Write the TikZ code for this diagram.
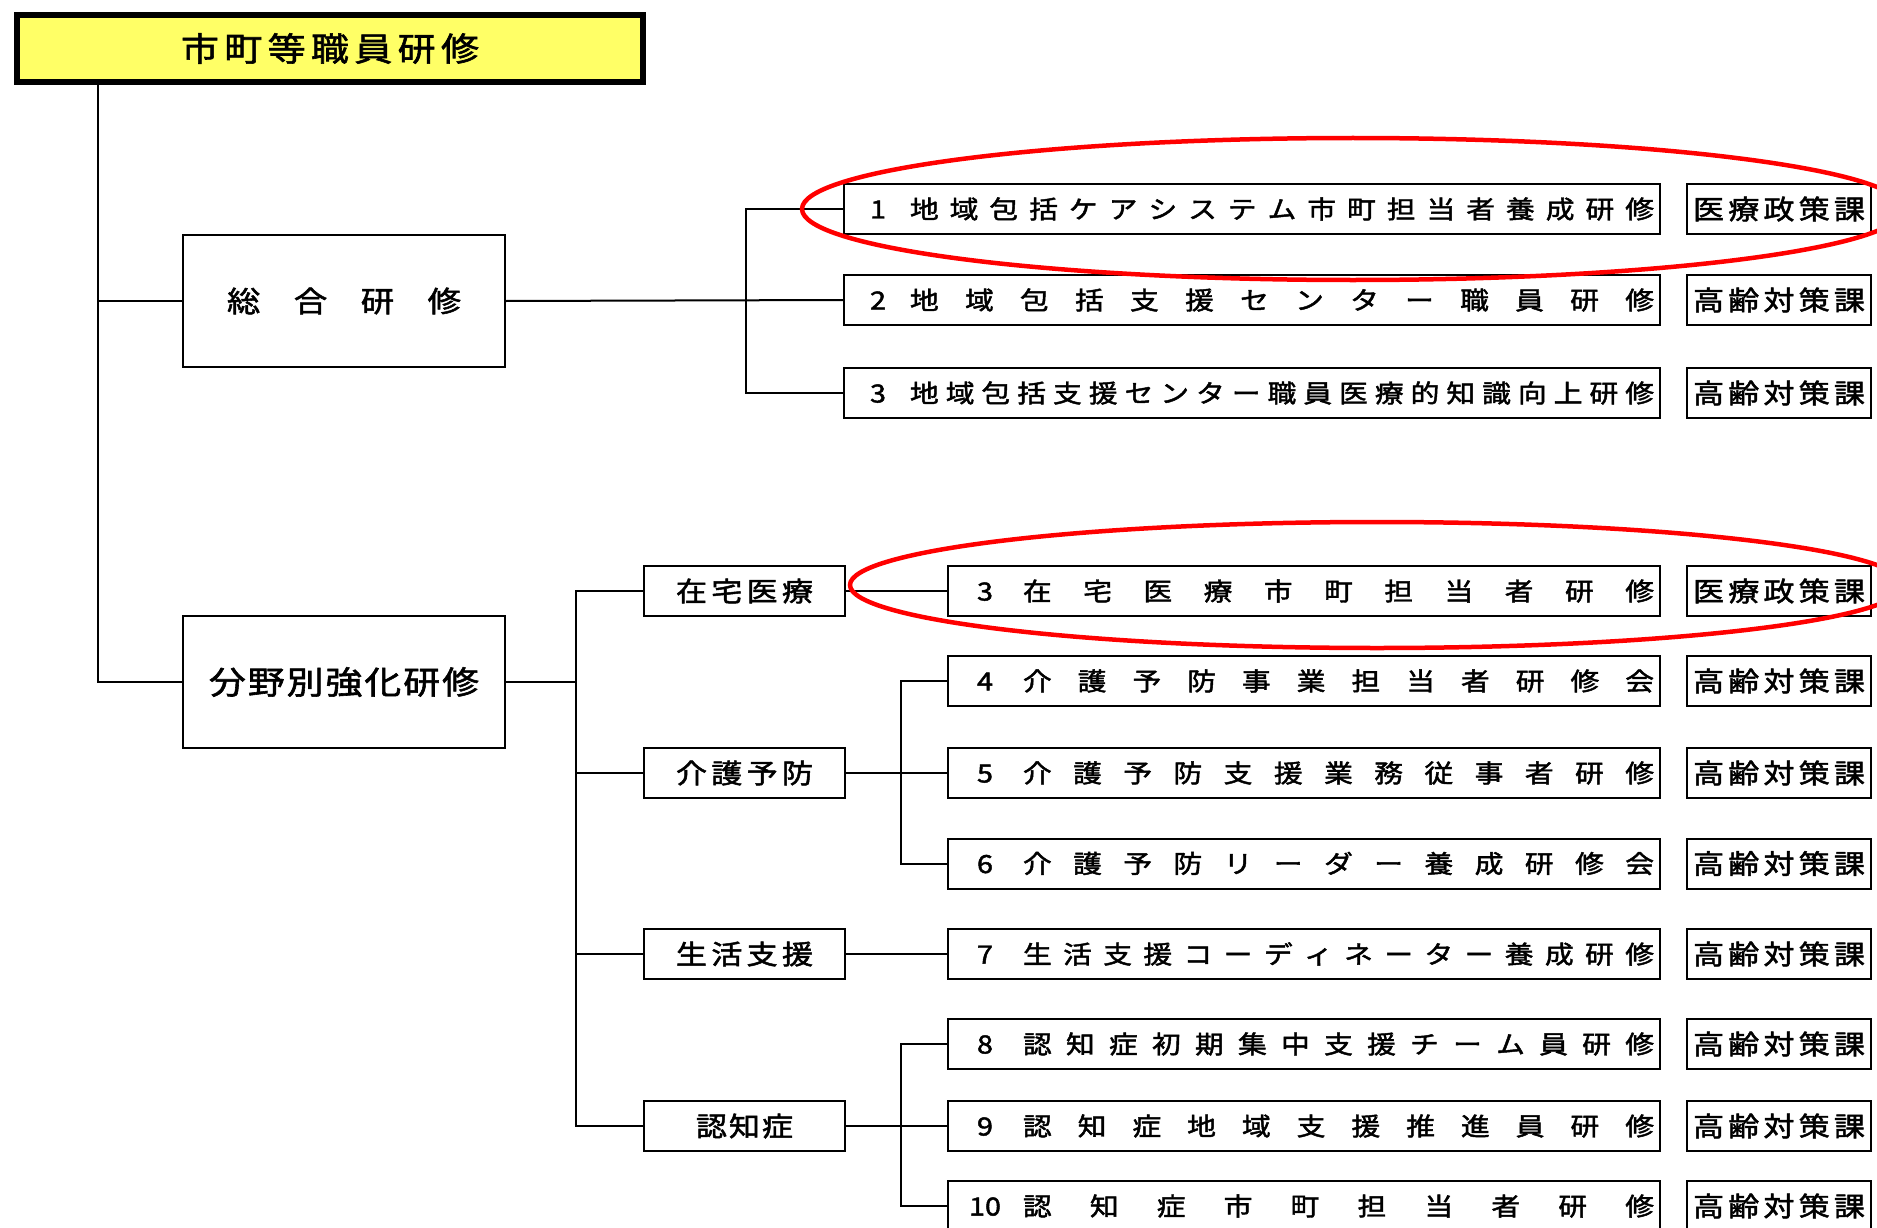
\documentclass[tikz,border=0pt]{standalone}
\usepackage{fontspec}
\newfontfamily\jp[FakeStretch=1.15,FakeBold=1.8]{Noto Sans CJK JP}
\usetikzlibrary{calc}
\makeatletter
\def\spreadchars#1{\spr@a#1\relax}
\def\spr@a#1#2\relax{#1\ifx\relax#2\relax\else\hfill\spr@a#2\relax\fi}
\makeatother
\newcommand\sptext[2]{\hbox to #1{\spreadchars{#2}}}
\newcommand\itemA[2]{\hbox to 816pt{\hskip 14pt\hbox to 40pt{\hfil#1\hfil}\hfill\sptext{744pt}{#2}\hskip 6pt}}
\newcommand\itemB[2]{\hbox to 712pt{\hskip 17pt\hbox to 40pt{\hfil#1\hfil}\hfill\sptext{631pt}{#2}\hskip 6pt}}
\newcommand\dept[1]{\sptext{172pt}{#1}}
\definecolor{titleyellow}{HTML}{FFFF66}
\tikzset{
  box/.style={draw=black, line width=2pt, inner sep=0pt, font=\jp},
  itembox/.style={box, minimum width=816pt, minimum height=50pt, font=\jp\fontsize{25}{25}\selectfont},
  itemboxb/.style={box, minimum width=712pt, minimum height=50pt, font=\jp\fontsize{25}{25}\selectfont},
  deptbox/.style={box, minimum width=184pt, minimum height=50pt, font=\jp\fontsize{27}{27}\selectfont},
  catbox/.style={box, minimum width=201pt, minimum height=50pt, font=\jp\fontsize{27}{27}\selectfont},
  bigbox/.style={box, minimum width=322pt, minimum height=132pt, font=\jp\fontsize{29}{29}\selectfont},
  conn/.style={line width=2pt, draw=black},
  redring/.style={draw=red, line width=4.5pt},
}
\begin{document}
\begin{tikzpicture}[x=1pt,y=-1pt]
\useasboundingbox (0,0) rectangle (1877,1228);
% title
\node[box, line width=6pt, fill=titleyellow, minimum width=626pt, minimum height=67pt,
      font=\jp\fontsize{33}{33}\selectfont] (title) at (330,48.5) {\sptext{298pt}{市町等職員研修}};
% level 1
\node[bigbox] (sogo) at (344,301) {\sptext{234pt}{総合研修}};
\node[bigbox, font=\jp\fontsize{32}{32}\selectfont] (bunya) at (344,682) {\sptext{270pt}{分野別強化研修}};
% group 1 items
\node[itembox] (i1) at (1252,209) {\itemA{1}{地域包括ケアシステム市町担当者養成研修}};
\node[itembox] (i2) at (1252,300) {\itemA{2}{地域包括支援センター職員研修}};
\node[itembox] (i3) at (1252,393) {\itemA{3}{地域包括支援センター職員医療的知識向上研修}};
\node[deptbox] (d1) at (1779,209) {\dept{医療政策課}};
\node[deptbox] (d2) at (1779,300) {\dept{高齢対策課}};
\node[deptbox] (d3) at (1779,393) {\dept{高齢対策課}};
% categories
\node[catbox] (c1) at (744.5,591) {\sptext{137pt}{在宅医療}};
\node[catbox] (c2) at (744.5,773) {\sptext{137pt}{介護予防}};
\node[catbox] (c3) at (744.5,954) {\sptext{137pt}{生活支援}};
\node[catbox] (c4) at (744.5,1126) {\sptext{97pt}{認知症}};
% group 2 items
\node[itemboxb] (j3) at (1304,591) {\itemB{3}{在宅医療市町担当者研修}};
\node[itemboxb] (j4) at (1304,681) {\itemB{4}{介護予防事業担当者研修会}};
\node[itemboxb] (j5) at (1304,773) {\itemB{5}{介護予防支援業務従事者研修}};
\node[itemboxb] (j6) at (1304,863.5) {\itemB{6}{介護予防リーダー養成研修会}};
\node[itemboxb] (j7) at (1304,954) {\itemB{7}{生活支援コーディネーター養成研修}};
\node[itemboxb] (j8) at (1304,1044) {\itemB{8}{認知症初期集中支援チーム員研修}};
\node[itemboxb] (j9) at (1304,1126) {\itemB{9}{認知症地域支援推進員研修}};
\node[itemboxb] (j10) at (1304,1206) {\itemB{10}{認知症市町担当者研修}};
\node[deptbox] (e3) at (1779,591) {\dept{医療政策課}};
\node[deptbox] (e4) at (1779,681) {\dept{高齢対策課}};
\node[deptbox] (e5) at (1779,773) {\dept{高齢対策課}};
\node[deptbox] (e6) at (1779,863.5) {\dept{高齢対策課}};
\node[deptbox] (e7) at (1779,954) {\dept{高齢対策課}};
\node[deptbox] (e8) at (1779,1044) {\dept{高齢対策課}};
\node[deptbox] (e9) at (1779,1126) {\dept{高齢対策課}};
\node[deptbox] (e10) at (1779,1206) {\dept{高齢対策課}};
% branch coordinates
\coordinate (t0) at (98,0);
\coordinate (b1) at (746,0);
\coordinate (b2) at (576,0);
\coordinate (b3) at (901,0);
% connectors
\draw[conn] (title.south -| t0) |- (bunya.west);
\draw[conn] (sogo.west -| t0) -- (sogo.west);
\draw[conn] (sogo.east) -- (i2.west);
\draw[conn] (i1.west) -| (b1 |- i3.west) -- (i3.west);
\draw[conn] (bunya.east) -- (bunya.east -| b2);
\draw[conn] (c1.west) -| (b2 |- c4.west) -- (c4.west);
\draw[conn] (c2.west) -- (c2.west -| b2);
\draw[conn] (c3.west) -- (c3.west -| b2);
\draw[conn] (c1.east) -- (j3.west);
\draw[conn] (c2.east) -- (j5.west);
\draw[conn] (j4.west) -| (b3 |- j6.west) -- (j6.west);
\draw[conn] (c3.east) -- (j7.west);
\draw[conn] (c4.east) -- (j9.west);
\draw[conn] (j8.west) -| (b3 |- j10.west) -- (j10.west);
% red highlight ellipses
\draw[redring] (1353,209) ellipse [x radius=551pt, y radius=71pt];
\draw[redring] (1377,585) ellipse [x radius=527pt, y radius=63pt];
\end{tikzpicture}
\end{document}
